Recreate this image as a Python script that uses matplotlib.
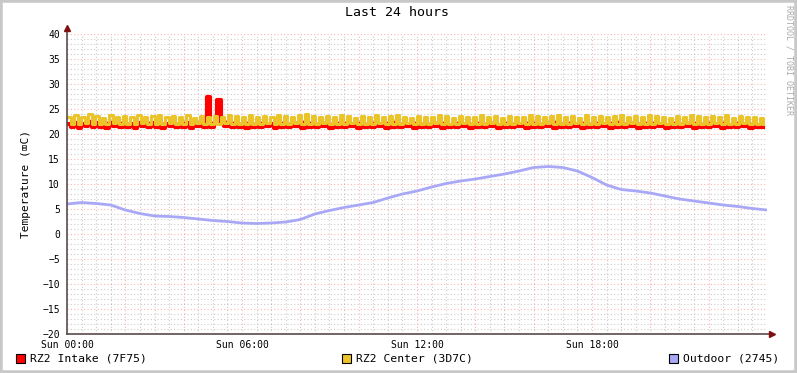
import matplotlib
matplotlib.use("Agg")
import matplotlib.pyplot as plt
from matplotlib.patches import Rectangle
import numpy as np

# indoor samples every 0.12 h (200 values over 24 h)
center = [
    23.5,22.1,23.8,22.0,23.4,22.2,24.0,22.0,23.6,22.1,23.3,22.0,23.9,22.2,23.5,22.0,23.7,22.1,23.4,22.0,
    23.8,22.2,23.5,22.0,23.6,22.1,23.9,22.0,23.4,22.2,23.7,22.0,23.5,22.1,23.8,22.0,23.3,22.2,23.6,22.0,
    23.4,22.1,23.7,22.0,23.5,22.2,23.9,22.0,23.6,22.1,23.4,22.0,23.8,22.1,23.5,22.0,23.7,22.2,23.4,22.0,
    23.9,22.1,23.6,22.0,23.5,22.2,23.8,22.0,24.1,22.1,23.6,22.0,23.4,22.2,23.7,22.0,23.5,22.1,23.8,22.0,
    23.6,22.2,23.3,22.0,23.7,22.1,23.5,22.0,23.8,22.2,23.4,22.0,23.6,22.1,23.9,22.0,23.5,22.2,23.3,22.0,
    23.7,22.1,23.5,22.0,23.4,22.2,23.8,22.0,23.6,22.1,23.3,22.0,23.7,22.2,23.5,22.0,23.4,22.1,23.8,22.0,
    23.5,22.2,23.6,22.0,23.3,22.1,23.7,22.0,23.5,22.2,23.4,22.0,23.8,22.1,23.6,22.0,23.4,22.2,23.7,22.0,
    23.9,22.1,23.5,22.0,23.6,22.2,23.3,22.0,23.8,22.1,23.5,22.0,23.7,22.2,23.4,22.0,23.6,22.1,23.9,22.0,
    23.5,22.2,23.7,22.0,23.4,22.1,23.8,22.0,23.6,22.2,23.5,22.0,23.3,22.1,23.7,22.0,23.5,22.2,23.8,22.0,
    23.6,22.1,23.4,22.0,23.7,22.2,23.5,22.0,23.8,22.1,23.3,22.0,23.6,22.2,23.5,22.0,23.4,22.1,23.2,22.0,
]
intake = [
    22.1,21.5,22.3,21.3,22.0,21.6,22.4,21.4,22.2,21.5,21.9,21.3,22.3,21.6,22.1,21.4,22.2,21.5,22.0,21.3,
    22.3,21.6,22.1,21.4,22.2,21.5,22.4,21.3,22.0,21.6,22.2,21.4,22.1,21.5,22.3,21.3,21.9,21.6,22.2,21.4,
    27.4,21.5,22.2,26.9,22.1,21.6,22.4,21.4,22.2,21.5,22.0,21.3,22.3,21.5,22.1,21.4,22.2,21.6,22.0,21.3,
    22.4,21.5,22.2,21.4,22.1,21.6,22.3,21.3,22.4,21.5,22.2,21.4,22.0,21.6,22.2,21.3,22.1,21.5,22.3,21.4,
    22.2,21.6,21.9,21.3,22.2,21.5,22.1,21.4,22.3,21.6,22.0,21.3,22.2,21.5,22.4,21.4,22.1,21.6,21.9,21.3,
    22.2,21.5,22.1,21.4,22.0,21.6,22.3,21.3,22.2,21.5,21.9,21.4,22.2,21.6,22.1,21.3,22.0,21.5,22.3,21.4,
    22.1,21.6,22.2,21.3,21.9,21.5,22.2,21.4,22.1,21.6,22.0,21.3,22.3,21.5,22.2,21.4,22.0,21.6,22.2,21.3,
    22.4,21.5,22.1,21.4,22.2,21.6,21.9,21.3,22.3,21.5,22.1,21.4,22.2,21.6,22.0,21.3,22.2,21.5,22.4,21.4,
    22.1,21.6,22.2,21.3,22.0,21.5,22.3,21.4,22.2,21.6,22.1,21.3,21.9,21.5,22.2,21.4,22.1,21.6,22.3,21.3,
    22.2,21.5,22.0,21.4,22.2,21.6,22.1,21.3,22.3,21.5,21.9,21.4,22.2,21.6,22.1,21.3,22.0,21.5,21.8,21.4,
]
indoor_hours = [i * 0.12 for i in range(200)]

# outdoor samples every 0.5 h
outdoor_hours = [i * 0.5 for i in range(49)]
outdoor = [6.0, 6.3, 6.1, 5.8, 4.8, 4.1, 3.6, 3.5, 3.3, 3.0, 2.7, 2.5, 2.2, 2.1, 2.2, 2.4,
           2.9, 4.0, 4.7, 5.3, 5.8, 6.3, 7.2, 8.0, 8.6, 9.4, 10.1, 10.6, 11.0, 11.5, 12.0,
           12.6, 13.3, 13.5, 13.3, 12.6, 11.3, 9.8, 8.9, 8.6, 8.2, 7.6, 7.0, 6.6, 6.2, 5.8,
           5.5, 5.1, 4.8]

xtick_pos = [0, 6, 12, 18]
xtick_labels = ["Sun 00:00", "Sun 06:00", "Sun 12:00", "Sun 18:00"]
names = ["RZ2 Intake (7F75)", "RZ2 Center (3D7C)", "Outdoor (2745)"]
colors = ["#FF0000", "#EBC42A", "#A8A8F6"]

mono = ["DejaVu Sans Mono", "DejaVu Sans"]
plt.rcParams["font.family"] = mono

W, H = 797, 373
fig = plt.figure(figsize=(W / 100, H / 100), dpi=100)
fig.patch.set_facecolor("white")
ax = fig.add_axes([67 / W, 1 - 334 / H, 700 / W, 300 / H])
ax.set_facecolor("white")

ax.plot(indoor_hours, intake, drawstyle="steps-post", color=colors[0], lw=3, zorder=3)
ax.plot(indoor_hours, center, drawstyle="steps-post", color=colors[1], lw=2.2, zorder=4)
ax.plot(outdoor_hours, outdoor, color=colors[2], lw=2, zorder=3)

ax.set_xlim(0, 24)
ax.set_ylim(-20, 40)
ax.set_xticks(xtick_pos)
ax.set_xticklabels(xtick_labels)
ax.set_yticks(np.arange(-20, 41, 5))
ax.tick_params(axis="both", length=0, labelsize=7)
ax.tick_params(axis="y", pad=5)
ax.tick_params(axis="x", pad=4.5)

# grid
dot = (0, (1, 2))
for h in np.arange(0.5, 24, 0.5):
    if h % 2 == 0:
        ax.axvline(h, color="#FF0000", alpha=0.3, lw=0.8, ls=dot, zorder=1)
    else:
        ax.axvline(h, color="#808080", alpha=0.4, lw=0.8, ls=dot, zorder=1)
for v in range(-19, 41):
    if v % 5 == 0:
        ax.axhline(v, color="#FF0000", alpha=0.3, lw=0.8, ls=dot, zorder=1)
    else:
        ax.axhline(v, color="#808080", alpha=0.4, lw=0.8, ls=dot, zorder=1)

for s in ax.spines.values():
    s.set_visible(False)
axc = "#5A4A4A"
ax.plot([0, 0], [0, 1.02], transform=ax.transAxes, color=axc, lw=1.2, clip_on=False, zorder=5)
ax.plot([0, 1.007], [0, 0], transform=ax.transAxes, color=axc, lw=1.2, clip_on=False, zorder=5)
ax.plot([0], [1.02], transform=ax.transAxes, marker="^", color="#7F1010", ms=5, clip_on=False, zorder=6)
ax.plot([1.007], [0], transform=ax.transAxes, marker=">", color="#7F1010", ms=5, clip_on=False, zorder=6)

ax.set_ylabel("Temperature (\u2327C)", fontsize=8, labelpad=8)
fig.text(397 / W, 1 - 13 / H, "Last 24 hours", ha="center", va="center", fontsize=9.5)
fig.text(789 / W, 1 - 5 / H, "RRDTOOL / TOBI OETIKER", rotation=270, ha="center", va="top",
         fontsize=6, color="#AAAAAA")

# legend
for name, col, x0 in zip(names, colors, [16, 342, 669]):
    fig.patches.append(Rectangle((x0 / W, 1 - 363 / H), 9 / W, 9 / H, transform=fig.transFigure,
                                 facecolor=col, edgecolor="black", lw=0.8))
    fig.text((x0 + 14) / W, 1 - 358.5 / H, name, ha="left", va="center", fontsize=8.2)

# frame
fig.patches.append(Rectangle((0, 0), 1, 1, transform=fig.transFigure, fill=False,
                             edgecolor="#C8C8C8", lw=4))

fig.savefig("out.png", dpi=100)
